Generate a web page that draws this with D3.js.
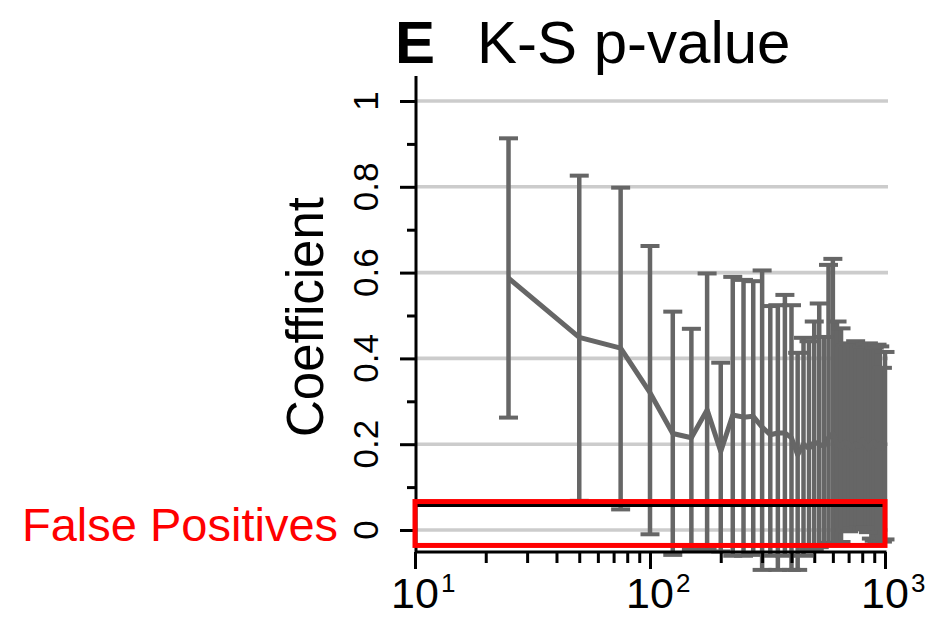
<!DOCTYPE html>
<html>
<head>
<meta charset="utf-8">
<script src="https://cdn.jsdelivr.net/npm/d3@7"></script>
<style>
  html, body { margin: 0; padding: 0; background: #ffffff; }
  svg { display: block; }
  svg text { font-family: "Liberation Sans", Arial, Helvetica, sans-serif; }
</style>
</head>
<body>
<svg id="chart" width="927" height="617"></svg>
<script>
// Sample sizes (x) and the K-S p-value summary at each size
const sampleSizes = [25, 50, 75, 100, 125, 150, 175, 200, 225, 250,
                     275, 300, 325, 350, 375, 400, 425, 450, 475, 500,
                     525, 550, 575, 600, 625, 650, 675, 700, 725, 750,
                     775, 800, 825, 850, 875, 900, 925, 950, 975, 1000];
const meanP  = [0.587, 0.449, 0.424, 0.320, 0.225, 0.215, 0.280, 0.183, 0.268, 0.263,
                0.265, 0.240, 0.222, 0.226, 0.226, 0.215, 0.175, 0.200, 0.190, 0.205,
                0.200, 0.195, 0.215, 0.225, 0.200, 0.195, 0.205, 0.200, 0.190, 0.200,
                0.195, 0.210, 0.200, 0.190, 0.200, 0.205, 0.195, 0.200, 0.190, 0.200];
const upperP = [0.913, 0.826, 0.798, 0.662, 0.509, 0.469, 0.598, 0.390, 0.590, 0.583,
                0.580, 0.605, 0.522, 0.524, 0.548, 0.524, 0.413, 0.448, 0.440, 0.486,
                0.528, 0.450, 0.618, 0.632, 0.486, 0.470, 0.431, 0.435, 0.431, 0.440,
                0.430, 0.428, 0.432, 0.435, 0.430, 0.425, 0.432, 0.428, 0.378, 0.415];
const lowerP = [0.262, 0.068, 0.048, -0.010, -0.058, -0.045, -0.045, -0.050, -0.060, -0.060,
                -0.058, -0.093, -0.060, -0.093, -0.060, -0.093, -0.093, -0.060, -0.045, -0.045,
                -0.040, -0.035, -0.030, -0.035, -0.030, -0.028, 0.000, -0.003, 0.004, 0.002,
                0.005, 0.003, 0.005, -0.005, -0.020, -0.025, -0.027, -0.025, -0.027, -0.022];

// Axis ticks
const yMajorTicks = [0, 0.2, 0.4, 0.6, 0.8, 1];
const yMinorTicks = [0.1, 0.3, 0.5, 0.7, 0.9];
const yTickLabels = ["0", "0.2", "0.4", "0.6", "0.8", "1"];
const xMajorTicks = [10, 100, 1000];
const xTickExponents = ["1", "2", "3"];
const xMinorTicks = [20, 30, 40, 50, 60, 70, 80, 90, 200, 300, 400, 500, 600, 700, 800, 900];

// Significance band
const falsePositiveCut = 0.057;
const bandLow = -0.036;

const data = sampleSizes.map((n, i) => ({ n, mean: meanP[i], hi: upperP[i], lo: lowerP[i] }));

const svg = d3.select("#chart");
const x = d3.scaleLog().domain([10, 1000]).range([415, 885]);
const y = d3.scaleLinear().domain([0, 1]).range([530, 101]);

const markColor = "#666666";

// Title
svg.append("text").attr("x", 395).attr("y", 63)
  .attr("font-size", 60).attr("font-weight", "bold").attr("fill", "#000").text("E");
svg.append("text").attr("x", 477).attr("y", 63)
  .attr("font-size", 60).attr("fill", "#000").text("K-S p-value");

// Horizontal grid
svg.append("g").selectAll("line").data(yMajorTicks).join("line")
  .attr("x1", x(10)).attr("x2", 888)
  .attr("y1", d => y(d)).attr("y2", d => y(d))
  .attr("stroke", "#cccccc").attr("stroke-width", 3.6);

// Error bars
const bars = svg.append("g").attr("stroke", markColor);
bars.selectAll("line.stem").data(data).join("line").attr("class", "stem")
  .attr("stroke-width", 4.5)
  .attr("x1", d => x(d.n)).attr("x2", d => x(d.n))
  .attr("y1", d => y(d.hi)).attr("y2", d => y(d.lo));
bars.selectAll("line.capHi").data(data).join("line").attr("class", "capHi")
  .attr("stroke-width", 4)
  .attr("x1", d => x(d.n) - 9.5).attr("x2", d => x(d.n) + 9.5)
  .attr("y1", d => y(d.hi)).attr("y2", d => y(d.hi));
bars.selectAll("line.capLo").data(data).join("line").attr("class", "capLo")
  .attr("stroke-width", 4)
  .attr("x1", d => x(d.n) - 9.5).attr("x2", d => x(d.n) + 9.5)
  .attr("y1", d => y(d.lo)).attr("y2", d => y(d.lo));

// Mean line
svg.append("path").datum(data)
  .attr("fill", "none").attr("stroke", markColor).attr("stroke-width", 5)
  .attr("stroke-linejoin", "round")
  .attr("d", d3.line().x(d => x(d.n)).y(d => y(d.mean)));

// Y axis
const yAxis = svg.append("g").attr("transform", `translate(${x(10) + 1},0)`);
yAxis.call(d3.axisLeft(y).tickValues(yMajorTicks).tickSize(16).tickSizeOuter(0).tickFormat(""));
yAxis.append("g").call(d3.axisLeft(y).tickValues(yMinorTicks).tickSize(9).tickSizeOuter(0).tickFormat(""));
yAxis.selectAll(".domain").remove();
yAxis.selectAll("line").attr("stroke", "#000").attr("stroke-width", 3);
yAxis.append("line").attr("x1", 0).attr("x2", 0).attr("y1", 76).attr("y2", 553)
  .attr("stroke", "#000").attr("stroke-width", 3);
svg.append("g").selectAll("g").data(yMajorTicks).join("g")
  .attr("transform", d => `translate(${x(10) - 37},${y(d)}) rotate(-90)`)
  .append("text").attr("text-anchor", "middle").attr("font-size", 35).attr("fill", "#000")
  .text((d, i) => yTickLabels[i]);

// X axis
const xAxis = svg.append("g").attr("transform", "translate(0,552)");
xAxis.call(d3.axisBottom(x).tickValues(xMajorTicks).tickSize(17).tickSizeOuter(0).tickFormat(""));
xAxis.append("g").call(d3.axisBottom(x).tickValues(xMinorTicks).tickSize(11).tickSizeOuter(0).tickFormat(""));
xAxis.selectAll(".domain").remove();
xAxis.selectAll("line").attr("stroke", "#000").attr("stroke-width", 3);
xAxis.append("line").attr("x1", x(10)).attr("x2", x(1000) + 1.5).attr("y1", 0).attr("y2", 0)
  .attr("stroke", "#000").attr("stroke-width", 3);
// Powers of ten: "10" centred on the tick, exponent raised to its right
const xLabels = svg.append("g");
xLabels.selectAll("text.base").data(xMajorTicks).join("text").attr("class", "base")
  .attr("text-anchor", "middle").attr("x", d => x(d)).attr("y", 607.5)
  .attr("font-size", 43).attr("fill", "#000").text("10");
xLabels.selectAll("text.exp").data(xMajorTicks).join("text").attr("class", "exp")
  .attr("text-anchor", "start").attr("x", d => x(d) + 26).attr("y", 592)
  .attr("font-size", 26).attr("fill", "#000")
  .text((d, i) => xTickExponents[i]);

// Y axis title
svg.append("text")
  .attr("transform", `translate(323,317) rotate(-90)`)
  .attr("text-anchor", "middle").attr("font-size", 51).attr("fill", "#000")
  .text("Coefficient");

// False positive threshold and highlight box
svg.append("line")
  .attr("x1", x(10) + 1).attr("x2", 883)
  .attr("y1", y(falsePositiveCut)).attr("y2", y(falsePositiveCut))
  .attr("stroke", "#000").attr("stroke-width", 3);
svg.append("rect")
  .attr("x", x(10)).attr("y", y(falsePositiveCut) - 4)
  .attr("width", x(1000) - x(10)).attr("height", y(bandLow) - y(falsePositiveCut) + 4)
  .attr("fill", "none").attr("stroke", "#ff0000").attr("stroke-width", 5);
svg.append("text").attr("x", 22).attr("y", 541)
  .attr("font-size", 47).attr("fill", "#ff0000").text("False Positives");
</script>
</body>
</html>
